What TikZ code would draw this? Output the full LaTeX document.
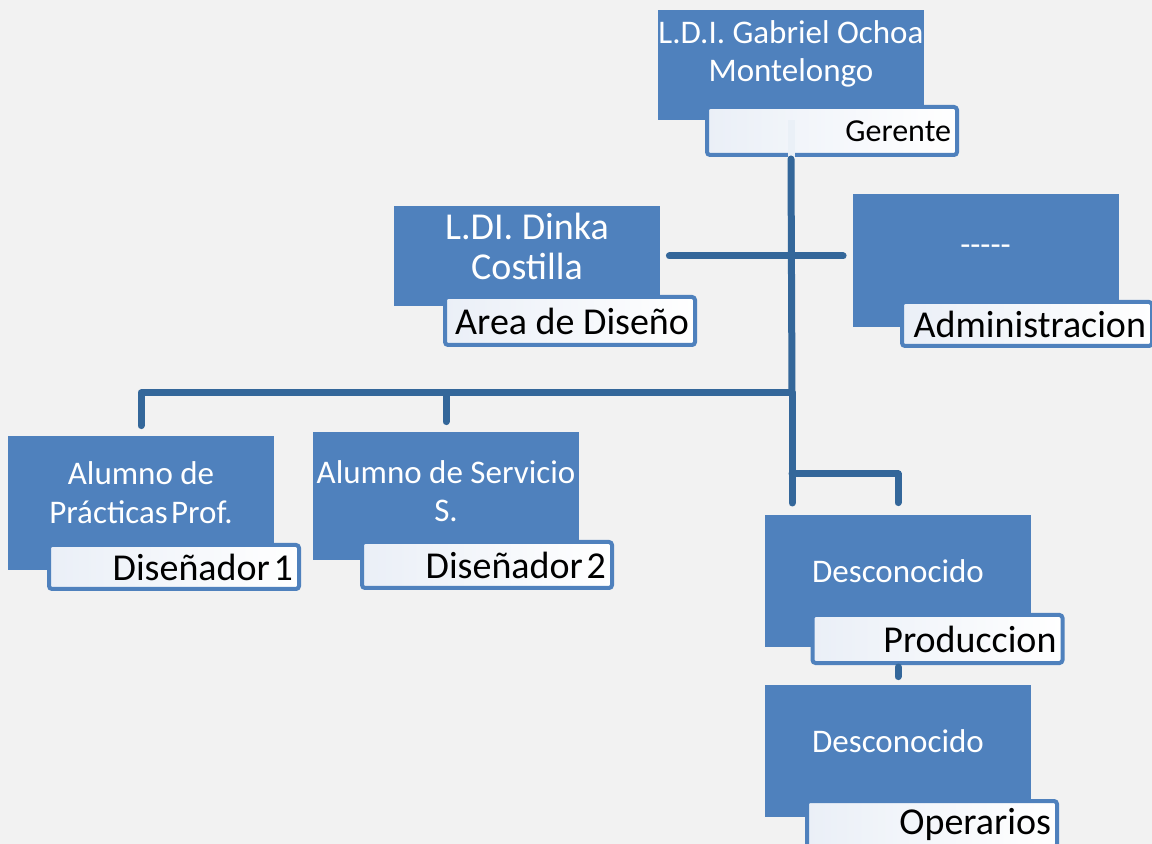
\documentclass[tikz,border=0pt]{standalone}
\usepackage{fontspec}
\setmainfont{Carlito}
\definecolor{boxblue}{HTML}{4F81BD}
\definecolor{lineblue}{HTML}{34679A}
\definecolor{paper}{HTML}{F2F2F2}
\definecolor{tagshade}{HTML}{EAEFF7}

\begin{document}
\begin{tikzpicture}[x=0.5pt, y=-0.5pt]

      \tikzset{person/.style={fill=boxblue, inner sep=0pt, minimum width=133pt},
               whotext/.style={text=white, align=center, inner sep=0pt, font=\fontsize{16.5}{19}\selectfont},
               roletag/.style={draw=boxblue, line width=2pt, rounded corners=1.5pt, left color=tagshade, right color=white,
                               inner xsep=3pt, inner ysep=0pt, minimum height=24pt, text width=119pt, align=flush right,
                               font=\fontsize{19}{22}\selectfont},
               orgline/.style={draw=lineblue, line width=3.5pt, line join=round, line cap=round}}

      \fill[paper] (0,0) rectangle (1152,844);
      \useasboundingbox (0,0) rectangle (1152,844);

%% Boxes
      	\node[person, minimum height=55pt] (ger) at (791,65) {};
      	\node[whotext] (gertxt) at ([yshift=5.5pt]ger.center) {L.D.I. Gabriel Ochoa\\Montelongo};
      	\node[roletag, font=\fontsize{16}{19}\selectfont] (gerlab) at (832,131) {Gerente};

      	\node[person, minimum height=50pt] (dinka) at (527,256) {};
      	\node[whotext, font=\fontsize{19}{20}\selectfont] (dinkatxt) at ([yshift=5pt]dinka.center) {L.DI. Dinka\\Costilla};
      	\node[roletag] (dinkalab) at (570,321) {Area de Diseño};

      	\node[person, minimum height=66.5pt] (admin) at (985.5,260.5) {};
      	\node[whotext] (admintxt) at ([yshift=5pt]admin.center) {{-}{-}{-}{-}{-}};
      	\node[roletag, minimum height=22pt] (adminlab) at (1027,324) {Administracion};

      	\node[person, minimum height=67pt] (alp) at (141,503) {};
      	\node[whotext, font=\fontsize{16.5}{19.5}\selectfont] (alptxt) at ([yshift=5pt]alp.center) {Alumno de\\Prácticas\hspace{0.1em}Prof.};
      	\node[roletag, minimum height=22pt] (alplab) at (174,567) {Diseñador\hspace{0.1em}1};

      	\node[person, minimum height=64pt] (ser) at (446,496) {};
      	\node[whotext] (sertxt) at ([yshift=2.5pt]ser.center) {Alumno de Servicio\\S.};
      	\node[roletag, minimum height=23pt] (serlab) at (487,565) {Diseñador\hspace{0.1em}2};

      	\node[person, minimum height=66pt] (prod) at (898,581) {};
      	\node[whotext] (prodtxt) at ([yshift=5pt]prod.center) {Desconocido};
      	\node[roletag] (prodlab) at (937.5,639) {Produccion};

      	\node[person, minimum height=66pt] (oper) at (898,751) {};
      	\node[whotext] (opertxt) at ([yshift=5pt]oper.center) {Desconocido};
      	\node[roletag, minimum height=23pt] (operlab) at (932,824) {Operarios};

%% Lines
      	\coordinate (split) at (792,393);
      	\coordinate (elbow) at (792,474);
      	\coordinate (stub) at (792,503);

		\draw[line width=3.5pt, boxblue!12] (ger.south) -- (ger.south |- gerlab.south);
		\draw[orgline] ([yshift=-1pt]ger.south |- gerlab.south) -- (split);
		\draw[orgline, shorten <=4.5pt, shorten >=4.5pt] (dinka.east) -- (dinka.east -| admin.west);
		\draw[orgline, shorten >=5pt] (split) -| (alp.north);
		\draw[orgline, shorten >=5pt] (split) -| (ser.north);
		\draw[orgline] (split) -- (stub);
		\draw[orgline, shorten >=6pt] (elbow) -| (prod.north);
		\draw[orgline, shorten <=1pt, shorten >=4pt] (prod.south |- prodlab.south) -- (oper.north);

	\end{tikzpicture}
\end{document}
